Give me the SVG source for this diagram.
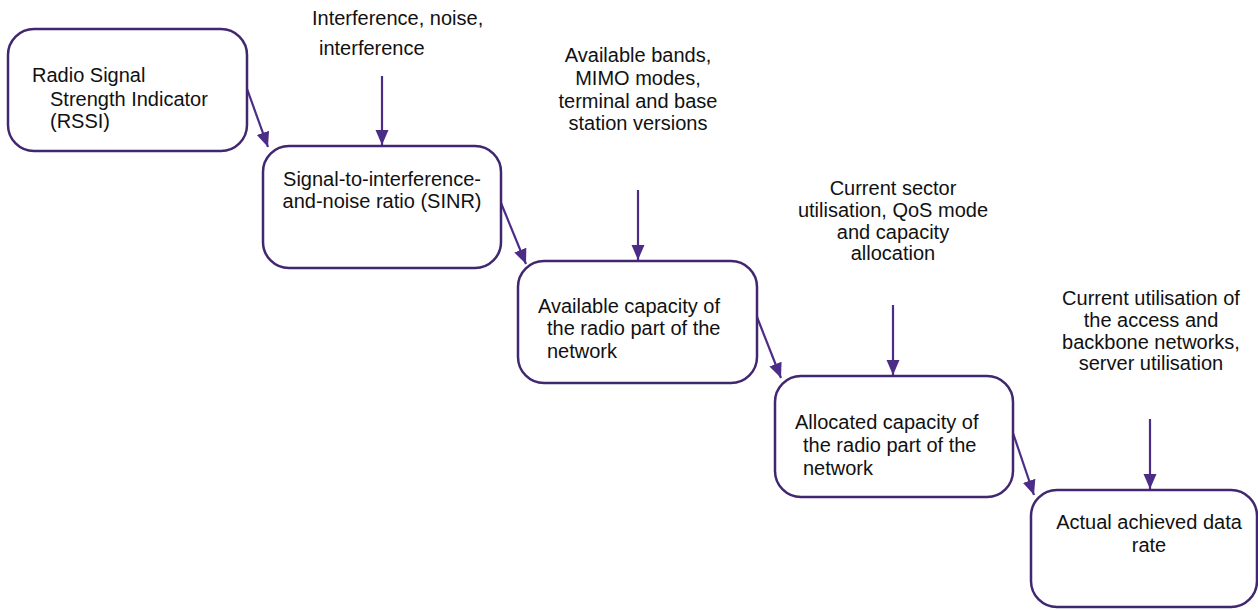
<svg xmlns="http://www.w3.org/2000/svg" width="1258" height="610" viewBox="0 0 1258 610">
<style>
.box{fill:#fff;stroke:#41276f;stroke-width:2.5}
.t{font-family:"Liberation Sans",Arial,sans-serif;font-size:20px;fill:#111}
.m{text-anchor:middle}
.c{stroke:#4b2c86;stroke-width:2.2;fill:none}
</style>
<defs>
<marker id="ah" markerUnits="userSpaceOnUse" markerWidth="16" markerHeight="16" viewBox="0 0 16 16" refX="15" refY="8" orient="auto">
<path d="M0,1.5 L15,8 L0,14.5 Z" fill="#4b2c86"/>
</marker>
</defs>
<rect width="1258" height="610" fill="#fff"/>
<g id="connectors">
<line class="c" x1="246" y1="86" x2="268" y2="147" marker-end="url(#ah)"/>
<line class="c" x1="501" y1="203" x2="526" y2="264" marker-end="url(#ah)"/>
<line class="c" x1="757" y1="317" x2="781" y2="378" marker-end="url(#ah)"/>
<line class="c" x1="1013" y1="433" x2="1034" y2="495" marker-end="url(#ah)"/>
<line class="c" x1="382" y1="76" x2="382" y2="145" marker-end="url(#ah)"/>
<line class="c" x1="638" y1="190" x2="638" y2="260" marker-end="url(#ah)"/>
<line class="c" x1="893" y1="305" x2="893" y2="375" marker-end="url(#ah)"/>
<line class="c" x1="1150" y1="419" x2="1150" y2="489" marker-end="url(#ah)"/>
</g>
<g id="rssi">
<rect class="box" x="8" y="29" width="239" height="122" rx="26"/>
<text class="t" x="32" y="82">Radio Signal</text>
<text class="t" x="50" y="106">Strength Indicator</text>
<text class="t" x="50" y="128">(RSSI)</text>
</g>
<g id="sinr">
<rect class="box" x="263" y="146" width="238" height="122" rx="26"/>
<text class="t m" x="382" y="186">Signal-to-interference-</text>
<text class="t m" x="382" y="208">and-noise ratio (SINR)</text>
</g>
<g id="available">
<rect class="box" x="518" y="261" width="239" height="122" rx="26"/>
<text class="t" x="538" y="313">Available capacity of</text>
<text class="t" x="547" y="335">the radio part of the</text>
<text class="t" x="547" y="358">network</text>
</g>
<g id="allocated">
<rect class="box" x="775" y="376" width="238" height="121" rx="26"/>
<text class="t" x="795" y="429">Allocated capacity of</text>
<text class="t" x="803" y="452">the radio part of the</text>
<text class="t" x="803" y="475">network</text>
</g>
<g id="actual">
<rect class="box" x="1031" y="490" width="226" height="117" rx="26"/>
<text class="t m" x="1149" y="529">Actual achieved data</text>
<text class="t m" x="1149" y="552">rate</text>
</g>
<g id="label-interference">
<text class="t" x="312" y="25">Interference, noise,</text>
<text class="t" x="319" y="55">interference</text>
</g>
<g id="label-bands">
<text class="t m" x="638" y="62">Available bands,</text>
<text class="t m" x="638" y="85">MIMO modes,</text>
<text class="t m" x="638" y="108">terminal and base</text>
<text class="t m" x="638" y="130">station versions</text>
</g>
<g id="label-sector">
<text class="t m" x="893" y="195">Current sector</text>
<text class="t m" x="893" y="217">utilisation, QoS mode</text>
<text class="t m" x="893" y="239">and capacity</text>
<text class="t m" x="893" y="260">allocation</text>
</g>
<g id="label-backbone">
<text class="t m" x="1151" y="305">Current utilisation of</text>
<text class="t m" x="1151" y="327">the access and</text>
<text class="t m" x="1151" y="349">backbone networks,</text>
<text class="t m" x="1151" y="370">server utilisation</text>
</g>
</svg>
